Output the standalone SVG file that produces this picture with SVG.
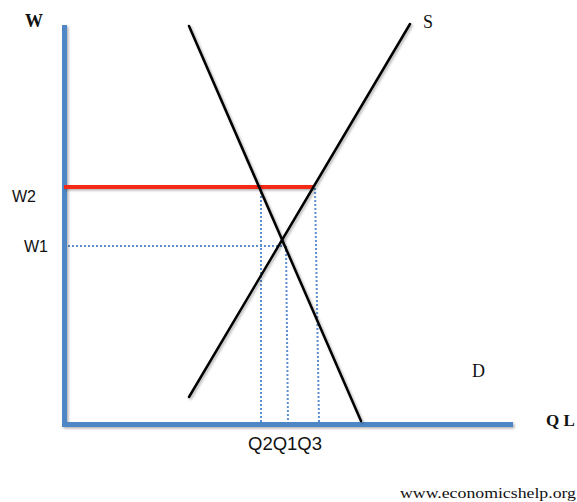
<svg xmlns="http://www.w3.org/2000/svg" width="577" height="502" viewBox="0 0 577 502">
  <defs>
    <filter id="shadow" filterUnits="userSpaceOnUse" x="0" y="0" width="577" height="502">
      <feDropShadow dx="1.5" dy="1.5" stdDeviation="1" flood-color="#000" flood-opacity="0.3"/>
    </filter>
  </defs>
  <style>
    .axis { stroke: #4f86c6; stroke-width: 5; fill: none; }
    .curve { stroke: #000; stroke-width: 2.5; fill: none; stroke-linecap: round; }
    .wage { stroke: #f42b14; stroke-width: 4; fill: none; }
    .dot { stroke: #5b8fd0; stroke-width: 2; stroke-dasharray: 2 2; fill: none; }
    .sans { font-family: "Liberation Sans", Arial, sans-serif; fill: #111; }
    .serif { font-family: "Liberation Serif", "Times New Roman", serif; fill: #111; }
  </style>
  <g id="connectors">
    <g id="guides">
      <line class="dot" x1="68" y1="246" x2="285" y2="246"/>
      <line class="dot" x1="261" y1="188" x2="261" y2="422"/>
      <line class="dot" x1="286" y1="246" x2="288" y2="422"/>
      <line class="dot" x1="315" y1="188" x2="319" y2="422"/>
    </g>
    <g id="axes" filter="url(#shadow)">
      <polyline class="axis" points="64.5,25 64.5,424.5 513,424.5"/>
    </g>
    <g id="wage-line" filter="url(#shadow)">
      <line class="wage" x1="64" y1="187" x2="313" y2="187"/>
    </g>
    <g id="demand" filter="url(#shadow)">
      <line class="curve" x1="189" y1="26" x2="361" y2="421"/>
    </g>
    <g id="supply" filter="url(#shadow)">
      <line class="curve" x1="189" y1="397" x2="410" y2="24"/>
    </g>
  </g>
  <g id="labels">
    <text id="label-W" class="serif" x="25" y="27" font-size="18" font-weight="bold">W</text>
    <text id="label-W2" class="sans" x="12" y="202" font-size="16">W2</text>
    <text id="label-W1" class="sans" x="24" y="252" font-size="16">W1</text>
    <text id="label-Q" class="sans" x="248" y="450" font-size="18" textLength="74" lengthAdjust="spacingAndGlyphs">Q2Q1Q3</text>
    <text id="label-S" class="serif" x="423" y="28" font-size="18">S</text>
    <text id="label-D" class="serif" x="472" y="377" font-size="18">D</text>
    <text id="label-QL" class="serif" x="546" y="426" font-size="17" font-weight="bold">Q L</text>
    <text id="credit" class="serif" x="400" y="498" font-size="15" textLength="176" lengthAdjust="spacingAndGlyphs">www.economicshelp.org</text>
  </g>
</svg>
